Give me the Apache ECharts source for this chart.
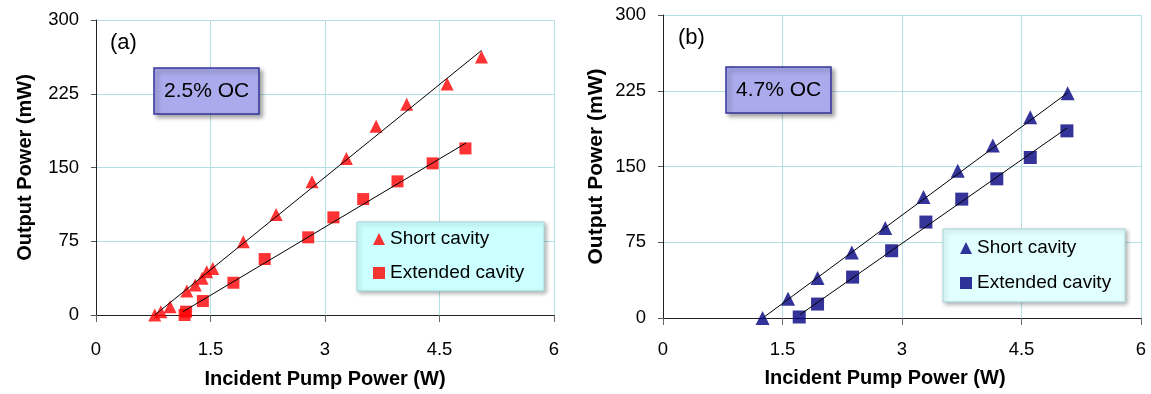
<!DOCTYPE html>
<html>
<head>
<meta charset="utf-8">
<script src="https://cdn.jsdelivr.net/npm/echarts@6/dist/echarts.min.js"></script>
<style>
    html, body { margin: 0; padding: 0; background: #fff; }
    #main { width: 1151px; height: 394px; }
</style>
</head>
<body>
<div id="main"></div>
<script>
    // panel (a): 2.5% OC
    var shortA_P = [0.77, 0.85, 0.97, 1.19, 1.30, 1.39, 1.45, 1.53, 1.93, 2.36, 2.83, 3.28, 3.67, 4.07, 4.60, 5.05];
    var shortA_O = [0, 3.4, 8.5, 24.4, 30.5, 37.3, 44, 47.4, 74.5, 102.3, 135.5, 159.2, 192, 214.4, 234.8, 262.5];
    var extA_P = [1.16, 1.18, 1.40, 1.80, 2.21, 2.78, 3.11, 3.50, 3.95, 4.41, 4.84];
    var extA_O = [0, 3.4, 14.2, 32.8, 56.9, 79, 99.3, 117.9, 135.9, 154.2, 169.4];
    var fitShortA = [[0.77, 0], [5.05, 269]];
    var fitExtA = [[1.14, 3.4], [4.85, 175]];

    // panel (b): 4.7% OC
    var shortB_P = [1.25, 1.57, 1.94, 2.37, 2.79, 3.27, 3.70, 4.14, 4.61, 5.08];
    var shortB_O = [0, 19.1, 39.6, 64.9, 89, 119.7, 145.7, 170.7, 198.8, 222.5];
    var extB_P = [1.71, 1.94, 2.38, 2.87, 3.30, 3.75, 4.19, 4.61, 5.07];
    var extB_O = [1, 13.8, 40.5, 66.6, 95, 117.7, 137.8, 158.9, 185.3];
    var fitShortB = [[1.27, 1], [5.08, 223]];
    var fitExtB = [[1.72, 3.3], [5.07, 188]];

    var xTicks = [0, 1.5, 3, 4.5, 6];
    var yTicks = [0, 75, 150, 225, 300];
    var legendLabels = {
        'a-short': 'Short cavity', 'a-ext': 'Extended cavity',
        'b-short': 'Short cavity', 'b-ext': 'Extended cavity'
    };

    var FONT = '"Liberation Sans", Arial, sans-serif';

    function zip(xs, ys) {
        return xs.map(function (x, i) { return [x, ys[i]]; });
    }

    function xAxisFor(idx, gap, pad) {
        return {
            type: 'value', gridIndex: idx,
            min: xTicks[0], max: xTicks[xTicks.length - 1], interval: xTicks[1] - xTicks[0],
            name: 'Incident Pump Power (W)', nameLocation: 'middle', nameGap: gap,
            nameTextStyle: { fontFamily: FONT, fontSize: 20, fontWeight: 'bold', color: '#000', padding: pad },
            axisLine: { onZero: false, lineStyle: { color: '#222', width: 1 } },
            axisTick: { show: true, inside: false, length: 7, lineStyle: { color: '#666' } },
            axisLabel: { fontFamily: FONT, fontSize: 18.5, color: '#000', margin: idx === 0 ? 25 : 22 },
            splitLine: { show: true, lineStyle: { color: '#b4dfe3', width: 1 } }
        };
    }

    function yAxisFor(idx, gap, nameSize) {
        return {
            type: 'value', gridIndex: idx,
            min: yTicks[0], max: yTicks[yTicks.length - 1], interval: yTicks[1] - yTicks[0],
            name: 'Output Power (mW)', nameLocation: 'middle', nameGap: gap,
            nameTextStyle: { fontFamily: FONT, fontSize: nameSize, fontWeight: 'bold', color: '#000' },
            axisLine: { show: true, onZero: false, lineStyle: { color: '#222', width: 1 } },
            axisTick: { show: true, inside: false, length: 5, lineStyle: { color: '#555' } },
            axisLabel: { fontFamily: FONT, fontSize: 18.5, color: '#000', margin: 17 },
            splitLine: { show: true, lineStyle: { color: '#b4dfe3', width: 1 } }
        };
    }

    function boxTitle(text, left, top) {
        return {
            text: text, left: left, top: top,
            padding: [12, 10, 12, 10],
            backgroundColor: '#aaaaec', borderColor: '#35359a', borderWidth: 1.5,
            shadowColor: 'rgba(0,0,0,0.35)', shadowBlur: 4, shadowOffsetX: 3, shadowOffsetY: 3,
            textStyle: { fontFamily: FONT, fontSize: 21, fontWeight: 'normal', color: '#000', lineHeight: 22 }
        };
    }

    function legendFor(names, left, top, bg, pad, gap) {
        return {
            data: [{ name: names[0], icon: 'triangle' }, { name: names[1], icon: 'rect' }],
            orient: 'vertical', left: left, top: top,
            padding: pad, itemGap: gap, itemWidth: 12, itemHeight: 12,
            backgroundColor: bg, borderColor: '#a6d3d6', borderWidth: 1,
            shadowColor: 'rgba(0,0,0,0.3)', shadowBlur: 4, shadowOffsetX: 2, shadowOffsetY: 2,
            selectedMode: false,
            formatter: function (name) { return legendLabels[name]; },
            textStyle: { fontFamily: FONT, fontSize: 19, color: '#000', lineHeight: 20 }
        };
    }

    function scatter(name, idx, data, symbol, size, color) {
        return {
            name: name, type: 'scatter', xAxisIndex: idx, yAxisIndex: idx,
            data: data, symbol: symbol, symbolSize: size,
            itemStyle: { color: color }, z: 2
        };
    }

    function fit(name, idx, data) {
        return {
            name: name, type: 'line', xAxisIndex: idx, yAxisIndex: idx,
            data: data, showSymbol: false, symbol: 'none', silent: true,
            lineStyle: { color: '#000', width: 1 }, z: 3
        };
    }

    var myChart = echarts.init(document.getElementById('main'));
    option = {
        animation: false,
        backgroundColor: '#fff',
        title: [
            { text: '(a)', left: 110, top: 32, padding: 0,
              textStyle: { fontFamily: FONT, fontSize: 22, fontWeight: 'normal', color: '#000' } },
            { text: '(b)', left: 678, top: 27, padding: 0,
              textStyle: { fontFamily: FONT, fontSize: 22, fontWeight: 'normal', color: '#000' } },
            boxTitle('2.5% OC', 154, 68),
            boxTitle('4.7% OC', 726, 67)
        ],
        legend: [
            legendFor(['a-short', 'a-ext'], 357, 222, '#ccffff', [7, 20, 8, 16], 14),
            legendFor(['b-short', 'b-ext'], 943, 229, '#e2ffff', [9, 14, 9, 17], 15)
        ],
        grid: [
            { left: 96, top: 20, width: 458, height: 295, containLabel: false },
            { left: 663, top: 15, width: 478, height: 303, containLabel: false }
        ],
        xAxis: [xAxisFor(0, 54, [0, 0, 0, 0]), xAxisFor(1, 50, [0, 34, 0, 0])],
        yAxis: [yAxisFor(0, 61, 20), yAxisFor(1, 56, 21)],
        series: [
            scatter('a-short', 0, zip(shortA_P, shortA_O), 'triangle', 13, '#ff0000'),
            scatter('a-ext', 0, zip(extA_P, extA_O), 'rect', 12, '#ff0000'),
            fit('fitShortA', 0, fitShortA),
            fit('fitExtA', 0, fitExtA),
            scatter('b-short', 1, zip(shortB_P, shortB_O), 'triangle', 14, '#000080'),
            scatter('b-ext', 1, zip(extB_P, extB_O), 'rect', 13, '#000080'),
            fit('fitShortB', 1, fitShortB),
            fit('fitExtB', 1, fitExtB)
        ]
    };
    myChart.setOption(option);
</script>
</body>
</html>
